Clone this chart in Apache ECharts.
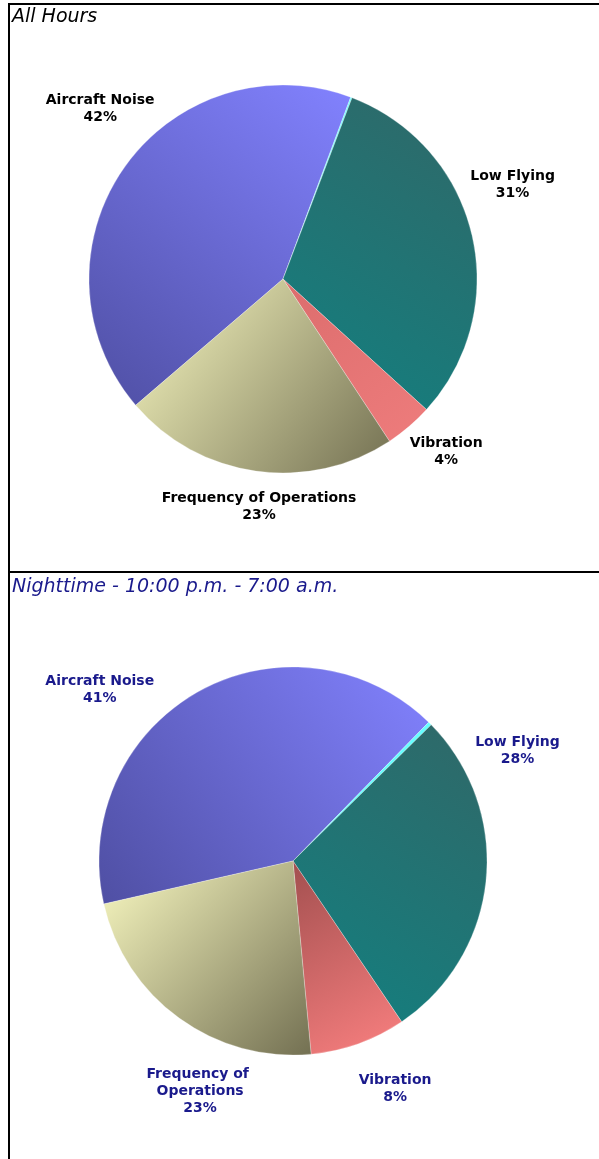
<!DOCTYPE html>
<html>
<head>
<meta charset="utf-8">
<script src="https://cdn.jsdelivr.net/npm/echarts@6/dist/echarts.min.js"></script>
<style>
  html, body { margin: 0; padding: 0; background: #fff; }
  #chart { width: 599px; height: 1159px; }
</style>
</head>
<body>
<div id="chart"></div>
<script>
// complaint categories, same order for both pies
const categories = ["Aircraft Noise", "Low Flying", "Vibration", "Frequency of Operations"];
const allHours = [42, 31, 4, 23];
const nighttime = [41, 28, 8, 23];
// thin cyan wedge drawn between Aircraft Noise and Low Flying
const sliver = [0.12, 0.3];

const chart = echarts.init(document.getElementById("chart"));

function grad(x, y, x2, y2, c1, c2) {
  return new echarts.graphic.LinearGradient(x, y, x2, y2, [
    { offset: 0, color: c1 },
    { offset: 1, color: c2 },
  ]);
}

function pieData(values, thin, vibColors, wrapFreq) {
  const styles = [
    grad(1, 0, 0, 1, "#8282ff", "#4f4fa3"),
    grad(0, 1, 1, 0, "#128080", "#306868"),
    grad(0, 0, 1, 1, vibColors[0], vibColors[1]),
    grad(0, 0, 1, 1, "#fafac2", "#737052"),
  ];
  const out = [{
    name: categories[0], value: values[0],
    itemStyle: { color: styles[0] },
  }, {
    name: "", value: thin,
    itemStyle: { color: "#66ffff" },
    label: { show: false },
  }];
  for (let i = 1; i < values.length; i++) {
    const item = { name: categories[i], value: values[i], itemStyle: { color: styles[i] } };
    if (wrapFreq && i === 3) item.label = { width: 120, overflow: "break" };
    out.push(item);
  }
  return out;
}

// label anchor in polar terms: [degrees clockwise from 12 o'clock, distance from centre]
function labelPlacer(center, spots) {
  return function (p) {
    const idx = p.dataIndex === 0 ? 0 : p.dataIndex - 1;
    const s = spots[idx];
    const a = s[0] * Math.PI / 180;
    return {
      x: center[0] + s[1] * Math.sin(a),
      y: center[1] - s[1] * Math.cos(a),
      align: "center",
      verticalAlign: "middle",
    };
  };
}

const topCenter = [283, 279];
const botCenter = [293, 861];

function pieSeries(center, startAngle, data, color, spots) {
  return {
    type: "pie",
    center: center,
    radius: 194,
    startAngle: startAngle,
    clockwise: true,
    animation: false,
    silent: true,
    data: data,
    itemStyle: { borderColor: "rgba(255,255,255,0.5)", borderWidth: 0.5 },
    label: {
      show: true,
      position: "outside",
      formatter: "{b}\n{c}%",
      color: color,
      fontFamily: "DejaVu Sans",
      fontWeight: "bold",
      fontSize: 14,
      lineHeight: 17,
      align: "center",
      overflow: "none",
      width: 300,
    },
    labelLine: { show: false },
    labelLayout: labelPlacer(center, spots),
  };
}

const option = {
  backgroundColor: "#fff",
  title: [
    {
      text: "All Hours", left: 12, top: 8, padding: 0,
      textStyle: { fontFamily: "DejaVu Sans", fontStyle: "italic", fontWeight: "normal", fontSize: 19, color: "#000" },
    },
    {
      text: "Nighttime - 10:00 p.m. - 7:00 a.m.", left: 12, top: 578, padding: 0,
      textStyle: { fontFamily: "DejaVu Sans", fontStyle: "italic", fontWeight: "normal", fontSize: 19, color: "#1a1a8c" },
    },
  ],
  graphic: [
    { type: "line", shape: { x1: 8, y1: 4, x2: 599, y2: 4 }, style: { stroke: "#000", lineWidth: 2 } },
    { type: "line", shape: { x1: 9, y1: 3, x2: 9, y2: 1159 }, style: { stroke: "#000", lineWidth: 2 } },
    { type: "line", shape: { x1: 8, y1: 572, x2: 599, y2: 572 }, style: { stroke: "#000", lineWidth: 2 } },
  ],
  series: [
    pieSeries(topCenter, 220.6, pieData(allHours, sliver[0], ["#dc6d6d", "#ee7c7c"], false), "#000",
      [[313, 250], [67.8, 248], [136.7, 238], [186, 229]]),
    pieSeries(botCenter, 192.8, pieData(nighttime, sliver[1], ["#a24f4f", "#fa8080"], true), "#1a1a8c",
      [[311.5, 258], [63.9, 250], [155.9, 250], [202, 248]]),
  ],
};

chart.setOption(option);
</script>
</body>
</html>
